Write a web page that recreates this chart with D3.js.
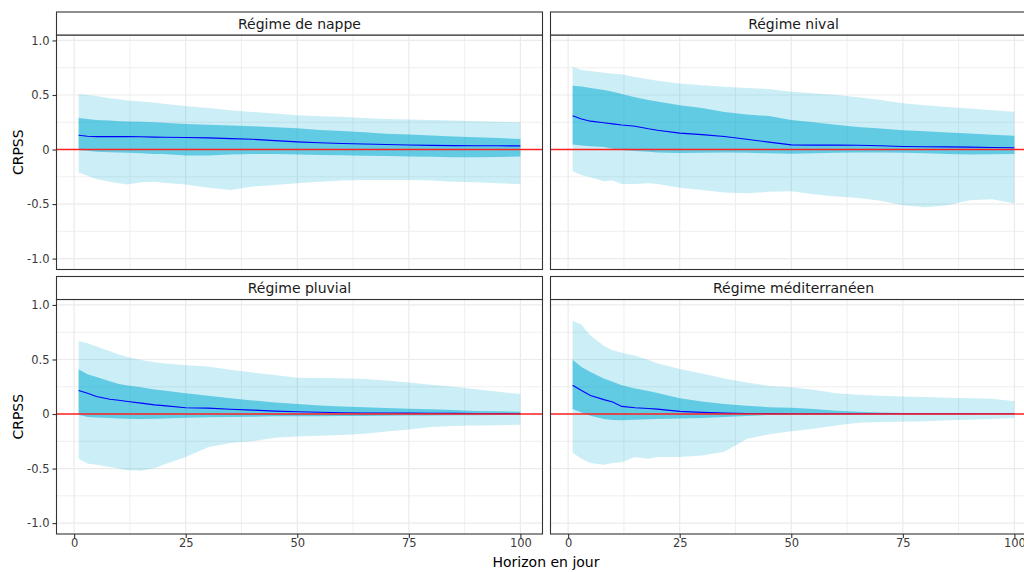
<!DOCTYPE html>
<html>
<head>
<meta charset="utf-8">
<script src="https://cdn.jsdelivr.net/npm/d3@7"></script>
<style>
  html, body { margin: 0; padding: 0; background: #fff; }
  svg { display: block; font-family: "DejaVu Sans", sans-serif; }
</style>
</head>
<body>
<svg id="chart" width="1024" height="572"></svg>
<script>
// ---------------- data ----------------
const horizons = [1, 3, 5, 8, 10, 12, 15, 18, 20, 25, 30, 35, 40, 45, 50, 55, 60, 65, 70, 75, 80, 85, 90, 95, 100];
const regimes = ["Régime de nappe", "Régime nival", "Régime pluvial", "Régime méditerranéen"];

// Régime de nappe
const nappeOuterHigh = [0.51, 0.50, 0.49, 0.47, 0.46, 0.45, 0.44, 0.43, 0.42, 0.40, 0.38, 0.36, 0.345, 0.33, 0.315, 0.305, 0.30, 0.29, 0.28, 0.275, 0.27, 0.265, 0.26, 0.255, 0.25];
const nappeInnerHigh = [0.29, 0.28, 0.27, 0.265, 0.26, 0.258, 0.255, 0.25, 0.245, 0.235, 0.228, 0.22, 0.213, 0.205, 0.195, 0.18, 0.17, 0.158, 0.145, 0.138, 0.128, 0.12, 0.112, 0.105, 0.097];
const nappeMean      = [0.131, 0.122, 0.118, 0.118, 0.118, 0.118, 0.117, 0.114, 0.112, 0.11, 0.107, 0.10, 0.094, 0.082, 0.07, 0.062, 0.055, 0.05, 0.046, 0.042, 0.038, 0.036, 0.035, 0.034, 0.033];
const nappeInnerLow  = [-0.005, -0.012, -0.02, -0.025, -0.028, -0.03, -0.035, -0.04, -0.042, -0.055, -0.055, -0.045, -0.04, -0.04, -0.045, -0.05, -0.052, -0.056, -0.06, -0.063, -0.066, -0.07, -0.07, -0.068, -0.065];
const nappeOuterLow  = [-0.21, -0.24, -0.27, -0.295, -0.31, -0.32, -0.30, -0.295, -0.305, -0.32, -0.35, -0.37, -0.34, -0.325, -0.31, -0.295, -0.285, -0.28, -0.28, -0.28, -0.285, -0.295, -0.30, -0.31, -0.316];

// Régime nival
const nivalOuterHigh = [0.76, 0.73, 0.72, 0.705, 0.695, 0.69, 0.665, 0.645, 0.63, 0.605, 0.59, 0.575, 0.565, 0.555, 0.53, 0.515, 0.50, 0.48, 0.455, 0.425, 0.405, 0.39, 0.375, 0.36, 0.346];
const nivalInnerHigh = [0.585, 0.578, 0.565, 0.545, 0.53, 0.508, 0.48, 0.455, 0.44, 0.405, 0.38, 0.345, 0.32, 0.307, 0.27, 0.25, 0.228, 0.207, 0.192, 0.177, 0.167, 0.157, 0.146, 0.136, 0.126];
const nivalMean      = [0.309, 0.28, 0.26, 0.245, 0.235, 0.225, 0.213, 0.19, 0.177, 0.15, 0.137, 0.12, 0.094, 0.068, 0.043, 0.04, 0.04, 0.039, 0.034, 0.028, 0.026, 0.024, 0.022, 0.019, 0.016];
const nivalInnerLow  = [0.046, 0.036, 0.03, 0.022, 0.008, -0.005, -0.013, -0.02, -0.028, -0.033, -0.03, -0.028, -0.03, -0.035, -0.039, -0.034, -0.03, -0.028, -0.027, -0.03, -0.034, -0.04, -0.045, -0.044, -0.042];
const nivalOuterLow  = [-0.20, -0.235, -0.255, -0.29, -0.285, -0.315, -0.315, -0.31, -0.315, -0.35, -0.37, -0.395, -0.40, -0.388, -0.383, -0.41, -0.43, -0.445, -0.47, -0.51, -0.53, -0.51, -0.465, -0.455, -0.495];

// Régime pluvial
const pluvialOuterHigh = [0.67, 0.648, 0.62, 0.575, 0.545, 0.523, 0.495, 0.475, 0.465, 0.447, 0.435, 0.405, 0.38, 0.358, 0.332, 0.33, 0.327, 0.32, 0.308, 0.288, 0.268, 0.25, 0.226, 0.205, 0.183];
const pluvialInnerHigh = [0.41, 0.365, 0.34, 0.30, 0.275, 0.262, 0.245, 0.225, 0.215, 0.19, 0.167, 0.145, 0.125, 0.106, 0.091, 0.078, 0.07, 0.062, 0.056, 0.049, 0.043, 0.036, 0.028, 0.025, 0.021];
const pluvialMean      = [0.215, 0.19, 0.16, 0.135, 0.126, 0.115, 0.10, 0.084, 0.077, 0.058, 0.054, 0.044, 0.036, 0.027, 0.021, 0.016, 0.012, 0.01, 0.009, 0.008, 0.007, 0.006, 0.005, 0.004, 0.003];
const pluvialInnerLow  = [-0.006, -0.028, -0.033, -0.037, -0.042, -0.044, -0.046, -0.044, -0.04, -0.034, -0.03, -0.028, -0.025, -0.021, -0.021, -0.02, -0.018, -0.017, -0.015, -0.014, -0.013, -0.012, -0.011, -0.01, -0.009];
const pluvialOuterLow  = [-0.41, -0.453, -0.465, -0.485, -0.50, -0.515, -0.52, -0.497, -0.465, -0.395, -0.305, -0.265, -0.25, -0.218, -0.205, -0.20, -0.192, -0.18, -0.16, -0.142, -0.12, -0.11, -0.106, -0.102, -0.098];

// Régime méditerranéen
const mediOuterHigh = [0.855, 0.818, 0.72, 0.625, 0.585, 0.562, 0.535, 0.495, 0.465, 0.412, 0.372, 0.325, 0.29, 0.258, 0.245, 0.222, 0.19, 0.177, 0.167, 0.161, 0.155, 0.15, 0.144, 0.14, 0.116];
const mediInnerHigh = [0.498, 0.43, 0.385, 0.325, 0.295, 0.263, 0.235, 0.21, 0.192, 0.144, 0.114, 0.092, 0.077, 0.063, 0.058, 0.045, 0.03, 0.02, 0.013, 0.01, 0.009, 0.009, 0.009, 0.009, 0.009];
const mediMean      = [0.263, 0.215, 0.17, 0.132, 0.11, 0.07, 0.058, 0.05, 0.045, 0.024, 0.015, 0.008, 0.005, 0.004, 0.003, 0.003, 0.003, 0.003, 0.003, 0.003, 0.003, 0.003, 0.003, 0.003, 0.003];
const mediInnerLow  = [0.046, 0.015, -0.015, -0.045, -0.055, -0.057, -0.052, -0.048, -0.046, -0.04, -0.037, -0.027, -0.017, -0.009, -0.008, -0.006, -0.005, -0.004, -0.003, -0.002, -0.002, -0.001, -0.001, 0, 0];
const mediOuterLow  = [-0.355, -0.41, -0.45, -0.465, -0.45, -0.443, -0.395, -0.41, -0.395, -0.394, -0.38, -0.345, -0.23, -0.185, -0.158, -0.135, -0.105, -0.08, -0.074, -0.07, -0.066, -0.058, -0.052, -0.045, -0.037];

const xTicks = [0, 25, 50, 75, 100];
const xMinorTicks = [12.5, 37.5, 62.5, 87.5];
const yTicks = [-1, -0.5, 0, 0.5, 1];
const yTickLabels = ["-1.0", "-0.5", "0", "0.5", "1.0"];
const yMinorTicks = [-0.75, -0.25, 0.25, 0.75];

const panelData = [
  { name: regimes[0], oh: nappeOuterHigh, ih: nappeInnerHigh, m: nappeMean, il: nappeInnerLow, ol: nappeOuterLow },
  { name: regimes[1], oh: nivalOuterHigh, ih: nivalInnerHigh, m: nivalMean, il: nivalInnerLow, ol: nivalOuterLow },
  { name: regimes[2], oh: pluvialOuterHigh, ih: pluvialInnerHigh, m: pluvialMean, il: pluvialInnerLow, ol: pluvialOuterLow },
  { name: regimes[3], oh: mediOuterHigh, ih: mediInnerHigh, m: mediMean, il: mediInnerLow, ol: mediOuterLow }
];

// ---------------- layout ----------------
const svg = d3.select("#chart");
const colX = [56.5, 550.5];
const panelW = 486;
const stripTop = [12, 276.5];
const stripH = 23;
const panelH = 234.5;

const bandColor = "rgb(0,170,210)";
const borderColor = "#333333";
const gridColor = "#EBEBEB";
const tickTextColor = "#3A3A3A";

const x = d3.scaleLinear().domain([-3.95, 104.95]).range([0, panelW]);
const y = d3.scaleLinear().domain([-1.1, 1.05]).range([panelH, 0]);

const defs = svg.append("defs");

panelData.forEach((p, i) => {
  const col = i % 2, row = Math.floor(i / 2);
  const px = colX[col];
  const sy = stripTop[row];
  const py = sy + stripH;

  defs.append("clipPath").attr("id", "clip" + i)
    .append("rect").attr("x", 0).attr("y", 0).attr("width", panelW).attr("height", panelH);

  const g = svg.append("g").attr("transform", `translate(${px},${py})`);
  const inner = g.append("g").attr("clip-path", `url(#clip${i})`);

  inner.append("rect").attr("width", panelW).attr("height", panelH).attr("fill", "#fff");

  // grid
  inner.selectAll(".gxm").data(xMinorTicks).enter().append("line")
    .attr("x1", d => x(d)).attr("x2", d => x(d)).attr("y1", 0).attr("y2", panelH)
    .attr("stroke", gridColor).attr("stroke-width", 0.8);
  inner.selectAll(".gym").data(yMinorTicks).enter().append("line")
    .attr("y1", d => y(d)).attr("y2", d => y(d)).attr("x1", 0).attr("x2", panelW)
    .attr("stroke", gridColor).attr("stroke-width", 0.8);
  inner.selectAll(".gx").data(xTicks).enter().append("line")
    .attr("x1", d => x(d)).attr("x2", d => x(d)).attr("y1", 0).attr("y2", panelH)
    .attr("stroke", gridColor).attr("stroke-width", 1.2);
  inner.selectAll(".gy").data(yTicks).enter().append("line")
    .attr("y1", d => y(d)).attr("y2", d => y(d)).attr("x1", 0).attr("x2", panelW)
    .attr("stroke", gridColor).attr("stroke-width", 1.2);

  const rows = horizons.map((h, k) => ({ h, oh: p.oh[k], ih: p.ih[k], m: p.m[k], il: p.il[k], ol: p.ol[k] }));

  const outerArea = d3.area().x(d => x(d.h)).y0(d => y(d.ol)).y1(d => y(d.oh));
  const innerArea = d3.area().x(d => x(d.h)).y0(d => y(d.il)).y1(d => y(d.ih));
  const meanLine = d3.line().x(d => x(d.h)).y(d => y(d.m));

  inner.append("path").datum(rows).attr("d", outerArea)
    .attr("fill", bandColor).attr("fill-opacity", 0.2);
  inner.append("path").datum(rows).attr("d", innerArea)
    .attr("fill", bandColor).attr("fill-opacity", 0.52);
  inner.append("path").datum(rows).attr("d", meanLine)
    .attr("fill", "none").attr("stroke", "#0000FF").attr("stroke-width", 1.1);
  inner.append("line").attr("x1", 0).attr("x2", panelW).attr("y1", y(0)).attr("y2", y(0))
    .attr("stroke", "#FF2020").attr("stroke-width", 1.3);

  // panel border
  g.append("rect").attr("width", panelW).attr("height", panelH)
    .attr("fill", "none").attr("stroke", borderColor).attr("stroke-width", 1.1);

  // strip
  const sg = svg.append("g").attr("transform", `translate(${px},${sy})`);
  sg.append("rect").attr("width", panelW).attr("height", stripH)
    .attr("fill", "#fff").attr("stroke", borderColor).attr("stroke-width", 1.1);
  sg.append("text").attr("x", panelW / 2).attr("y", stripH / 2 + 5)
    .attr("text-anchor", "middle").attr("font-size", 14).attr("fill", "#1A1A1A").text(p.name);

  // axes
  if (col === 0) {
    const ay = g.append("g").call(
      d3.axisLeft(y).tickValues(yTicks).tickFormat((d, k) => yTickLabels[k]).tickSize(4).tickPadding(3)
    );
    ay.select(".domain").remove();
    ay.selectAll(".tick line").attr("stroke", borderColor).attr("stroke-width", 1.1);
    ay.selectAll(".tick text").attr("font-size", 11.5).attr("fill", tickTextColor)
      .attr("font-family", "DejaVu Sans, sans-serif");
  }
  if (row === 1) {
    const ax = g.append("g").attr("transform", `translate(0,${panelH})`).call(
      d3.axisBottom(x).tickValues(xTicks).tickFormat(d3.format("d")).tickSize(4).tickPadding(1)
    );
    ax.select(".domain").remove();
    ax.selectAll(".tick line").attr("stroke", borderColor).attr("stroke-width", 1.1);
    ax.selectAll(".tick text").attr("font-size", 11.5).attr("fill", tickTextColor)
      .attr("font-family", "DejaVu Sans, sans-serif");
  }
});

// axis titles
svg.append("text").attr("x", 546).attr("y", 567).attr("text-anchor", "middle")
  .attr("font-size", 14).attr("fill", "#000").text("Horizon en jour");
[0, 1].forEach(row => {
  const cy = stripTop[row] + stripH + panelH / 2;
  svg.append("text").attr("transform", `translate(23,${cy}) rotate(-90)`)
    .attr("text-anchor", "middle").attr("font-size", 14).attr("fill", "#000").text("CRPSS");
});
</script>
</body>
</html>
